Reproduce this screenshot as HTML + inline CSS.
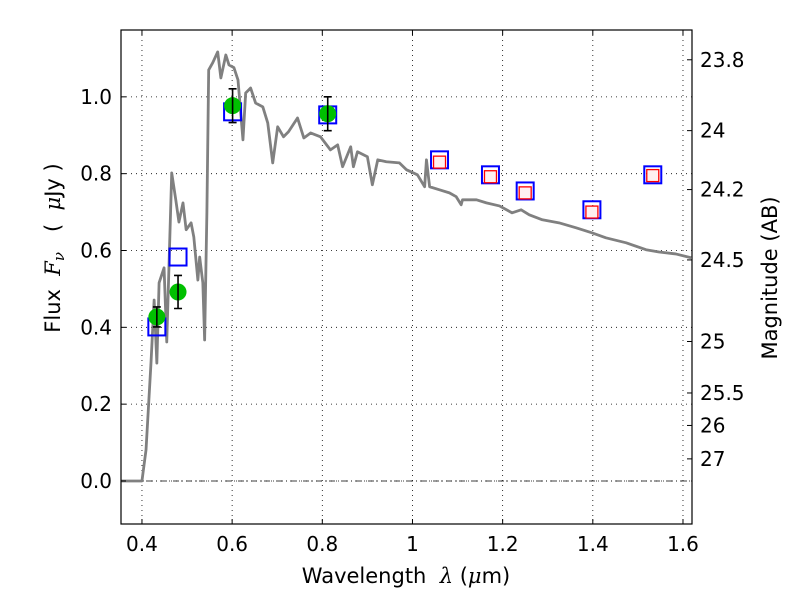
<!DOCTYPE html>
<html><head><meta charset="utf-8"><style>
body{margin:0;background:#fff}
svg text{font-family:"DejaVu Sans","Liberation Sans",sans-serif;fill:#000}
</style></head><body>
<svg id="chart" width="800" height="600" viewBox="0 0 800 600" xmlns="http://www.w3.org/2000/svg">
<g id="grid"></g>
<g id="spec"></g>
<g id="marks"></g>
<rect x="121" y="30" width="571" height="494" fill="none" stroke="#000" stroke-width="1.2"/>
<g id="axes"></g>
<text x="406" y="583" font-size="21" text-anchor="middle">Wavelength&#160;&#160;<tspan font-style="italic" font-family="DejaVu Serif,serif">λ</tspan>&#160;(<tspan font-style="italic" font-family="DejaVu Serif,serif">μ</tspan>m)</text>
<text transform="translate(60,248) rotate(-90)" font-size="21" text-anchor="middle">Flux&#160;&#160;<tspan font-style="italic" font-family="DejaVu Serif,serif">F<tspan font-size="15" dy="4">ν</tspan></tspan><tspan dy="-4">&#160;&#160;&#160;(&#160;&#160;</tspan><tspan font-style="italic" font-family="DejaVu Serif,serif">μ</tspan>Jy&#160;)</text>
<text transform="translate(777,278) rotate(-90)" font-size="21" text-anchor="middle">Magnitude (AB)</text>
</svg>
<script>
const specWave=[0.354,0.4,0.409,0.420,0.427,0.433,0.438,0.449,0.455,0.466,0.475,0.482,0.491,0.498,0.509,0.515,0.524,0.528,0.535,0.539,0.544,0.548,0.557,0.568,0.575,0.586,0.593,0.604,0.613,0.624,0.630,0.641,0.652,0.668,0.679,0.690,0.701,0.714,0.725,0.745,0.759,0.774,0.796,0.818,0.834,0.845,0.863,0.869,0.878,0.900,0.911,0.923,0.942,0.971,0.987,1.011,1.027,1.031,1.038,1.060,1.082,1.097,1.108,1.111,1.142,1.164,1.193,1.221,1.241,1.259,1.288,1.325,1.363,1.398,1.429,1.474,1.518,1.547,1.584,1.618];
const specFlux=[0,0,0.081,0.307,0.471,0.307,0.516,0.555,0.362,0.802,0.732,0.674,0.724,0.654,0.672,0.635,0.523,0.583,0.516,0.367,0.698,1.070,1.089,1.117,1.049,1.109,1.083,1.076,1.044,0.888,1.010,1.023,0.984,0.974,0.932,0.828,0.922,0.896,0.909,0.945,0.893,0.906,0.896,0.862,0.875,0.818,0.870,0.818,0.857,0.844,0.771,0.836,0.831,0.828,0.810,0.797,0.766,0.836,0.766,0.758,0.750,0.740,0.719,0.732,0.732,0.724,0.716,0.698,0.706,0.693,0.680,0.672,0.659,0.646,0.633,0.620,0.602,0.596,0.591,0.581];
const obsWave=[0.433,0.480,0.601,0.812];
const obsFlux=[0.427,0.492,0.977,0.956];
const obsErr=[0.026,0.043,0.044,0.044];
const modWave=[0.433,0.480,0.601,0.812,1.060,1.173,1.250,1.398,1.533];
const modFlux=[0.401,0.583,0.961,0.953,0.836,0.797,0.755,0.706,0.797];
const redWave=[1.060,1.173,1.250,1.398,1.533];
const redFlux=[0.830,0.792,0.750,0.700,0.795];
const xTicks=[0.4,0.6,0.8,1.0,1.2,1.4,1.6];
const xTickLabels=["0.4","0.6","0.8","1","1.2","1.4","1.6"];
const yTicks=[0,0.2,0.4,0.6,0.8,1.0];
const yTickLabels=["0.0","0.2","0.4","0.6","0.8","1.0"];
const magTicks=[23.8,24,24.2,24.5,25,25.5,26,27];
const magTickLabels=["23.8","24","24.2","24.5","25","25.5","26","27"];

const L=121,R=692,T=30,B=524,x0=0.3535,x1=1.62,y0=-0.112,y1=1.174;
const X=w=>L+(w-x0)/(x1-x0)*(R-L);
const Y=f=>B-(f-y0)/(y1-y0)*(B-T);
const NS="http://www.w3.org/2000/svg";
function mk(p,tag,at){const e=document.createElementNS(NS,tag);for(const k in at)e.setAttribute(k,at[k]);p.appendChild(e);return e;}
const grid=document.getElementById('grid'),axes=document.getElementById('axes'),spec=document.getElementById('spec'),marks=document.getElementById('marks');
xTicks.forEach((t,i)=>{const x=X(t);
 let g=mk(grid,'line',{x1:x,x2:x,y1:T,y2:B,stroke:'#000','stroke-width':0.8,'stroke-dasharray':'1,4'});
 
 mk(axes,'line',{x1:x,x2:x,y1:B,y2:B-5,stroke:'#000'});mk(axes,'line',{x1:x,x2:x,y1:T,y2:T+5,stroke:'#000'});
 let tx=mk(axes,'text',{x:x,y:B+27,'font-size':20,'text-anchor':'middle'});tx.textContent=xTickLabels[i];
 });
yTicks.forEach((t,i)=>{const y=Y(t);
 let g=mk(grid,'line',{x1:L,x2:R,y1:y,y2:y,stroke:'#000','stroke-width':0.8,'stroke-dasharray':'1,4'});
 
 mk(axes,'line',{x1:L,x2:L+5,y1:y,y2:y,stroke:'#000'});
 let tx=mk(axes,'text',{x:L-9,y:y+7,'font-size':20,'text-anchor':'end'});tx.textContent=yTickLabels[i];
 });
let zl=mk(grid,'line',{x1:L,x2:R,y1:Y(0),y2:Y(0),stroke:'#000','stroke-width':0.8,'stroke-dasharray':'6,3,1,3'});

magTicks.forEach((m,i)=>{const y=Y(Math.pow(10,(23.9-m)/2.5));
 mk(axes,'line',{x1:R-5,x2:R,y1:y,y2:y,stroke:'#000'});
 let tx=mk(axes,'text',{x:R+8,y:y+7,'font-size':20});tx.textContent=magTickLabels[i];
 });
let pl=mk(spec,'polyline',{points:specWave.map((w,i)=>X(w)+','+Y(specFlux[i])).join(' '),fill:'none',stroke:'#808080','stroke-width':2.8,'stroke-linejoin':'round'});

modWave.forEach((w,i)=>{const x=X(w),y=Y(modFlux[i]);
 let r=mk(marks,'rect',{x:x-8.5,y:y-8.5,width:17,height:17,fill:'none',stroke:'#0000ff','stroke-width':2});
 });
redWave.forEach((w,i)=>{const x=X(w),y=Y(redFlux[i]);
 let r=mk(marks,'rect',{x:x-6,y:y-6,width:12,height:12,fill:'#fff0f0',stroke:'#ff0000','stroke-width':1.3});
 });
obsWave.forEach((w,i)=>{const x=X(w),y=Y(obsFlux[i]);
 let c=mk(marks,'circle',{cx:x,cy:y,r:8.5,fill:'#00c000'});
 
 const ya=Y(obsFlux[i]+obsErr[i]),yb=Y(obsFlux[i]-obsErr[i]);
 let e=mk(marks,'path',{d:`M${x},${ya}V${yb}M${x-4},${ya}H${x+4}M${x-4},${yb}H${x+4}`,stroke:'#000','stroke-width':1.6,fill:'none'});
 });
</script>
</body></html>
